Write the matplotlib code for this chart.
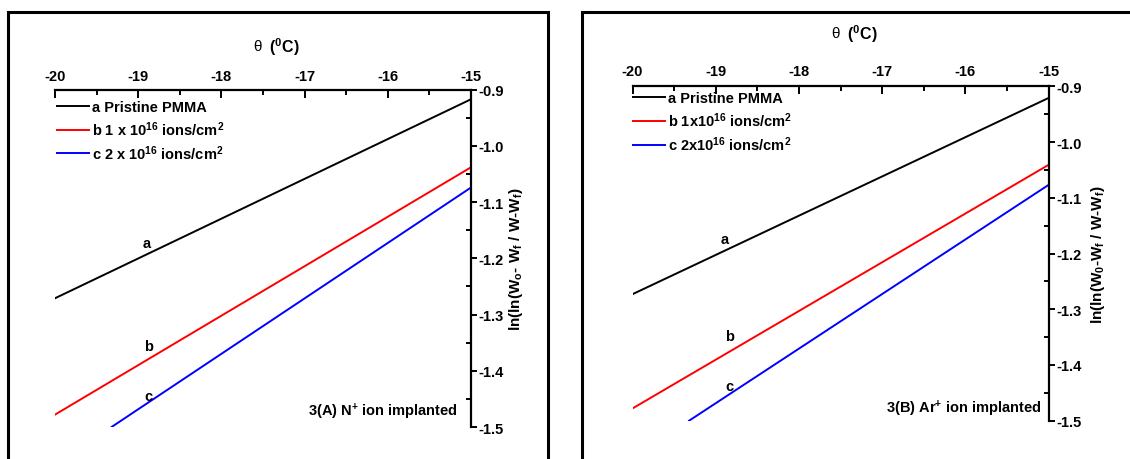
import numpy as np
import matplotlib
matplotlib.use('Agg')
import matplotlib.pyplot as plt
from matplotlib.patches import Rectangle
from matplotlib.ticker import MultipleLocator, FormatStrFormatter

plt.rcParams['font.family'] = ['Liberation Sans Narrow', 'Liberation Sans', 'DejaVu Sans']
plt.rcParams['font.weight'] = 'bold'
plt.rcParams['mathtext.default'] = 'regular'

# temperature end points (deg C) and ln(ln(...)) values
theta_ab = [-20.0, -15.0]
theta_c = [-19.32, -15.0]

a_left = [-1.271, -0.917]
b_left = [-1.478, -1.038]
c_left = [-1.500, -1.074]

a_right = [-1.273, -0.921]
b_right = [-1.478, -1.041]
c_right = [-1.500, -1.077]

legend_left = ['a Pristine PMMA', r'b 1 x 10$^{16}$ ions/cm$^{2}$', r'c 2 x 10$^{16}$ ions/cm$^{2}$']
legend_right = ['a Pristine PMMA', r'b 1x10$^{16}$ ions/cm$^{2}$', r'c 2x10$^{16}$ ions/cm$^{2}$']
ylabel_left = r'ln(ln(W$_{o}$- W$_{f}$ / W-W$_{f}$)'
ylabel_right = r'ln(ln(W$_{0}$-W$_{f}$ / W-W$_{f}$)'
tag_left = r'3(A) N$^{+}$ ion implanted'
tag_right = r'3(B) Ar$^{+}$ ion implanted'

W, H = 1130, 460
fig = plt.figure(figsize=(W/100, H/100), dpi=100)

def px(x0, y0, x1, y1):
  return [x0/W, 1-y1/H, (x1-x0)/W, (y1-y0)/H]

# outer frames
for x0, x1 in [(8, 548), (582, 1140)]:
  fig.patches.append(Rectangle((x0/W, -0.05), (x1-x0)/W, 1.05-13/H, transform=fig.transFigure,
                               fill=False, lw=2.2, ec='black'))

def panel(rect, ys, legend, ylab, ylab_xy, tag, tag_xy, letters, leg_anchor, xlab_y, tickpad):
  ax = fig.add_axes(rect)
  ax.set_facecolor('none')
  cols = ['black', 'red', 'blue']
  xs = [theta_ab, theta_ab, theta_c]
  for x, y, c, l in zip(xs, ys, cols, legend):
    ax.plot(x, y, color=c, lw=1.4, label=l)
  ax.set_xlim(-20, -15)
  ax.set_ylim(-1.5, -0.9)
  for s in ['bottom', 'left']:
    ax.spines[s].set_visible(False)
  for s in ['top', 'right']:
    ax.spines[s].set_linewidth(1.6)
  ax.xaxis.set_ticks_position('top')
  ax.yaxis.set_ticks_position('right')
  ax.xaxis.set_major_locator(MultipleLocator(1))
  ax.xaxis.set_minor_locator(MultipleLocator(0.5))
  ax.yaxis.set_major_locator(MultipleLocator(0.1))
  ax.yaxis.set_minor_locator(MultipleLocator(0.05))
  ax.tick_params(axis='x', which='major', direction='in', length=6, width=1.4, labelsize=10.5, pad=tickpad)
  ax.tick_params(axis='x', which='minor', direction='in', length=3.5, width=1.4)
  ax.tick_params(axis='y', which='major', direction='out', length=4, width=1.4, labelsize=10.5, pad=1.5)
  ax.tick_params(axis='y', which='minor', direction='in', length=3.5, width=1.4)
  ax.yaxis.set_major_formatter(FormatStrFormatter('%.1f'))
  ax.xaxis.set_major_formatter(FormatStrFormatter('%d'))
  # x label: serif theta + bold unit
  ax.text(0.5, xlab_y, r'$\theta$', transform=ax.transAxes, ha='right', va='center',
          fontsize=11, fontweight='normal', math_fontfamily='dejavuserif')
  ax.text(0.505, xlab_y, r' ($^{0}$C)', transform=ax.transAxes, ha='left', va='center', fontsize=11.5)
  ax.text(ylab_xy[0], ylab_xy[1], ylab, transform=ax.transAxes, rotation=90,
          ha='center', va='center', fontsize=11)
  ax.text(tag_xy[0], tag_xy[1], tag, transform=ax.transAxes, ha='right', va='center', fontsize=10.5)
  for t, (lx, ly) in zip(['a', 'b', 'c'], letters):
    ax.text(lx, ly, t, transform=ax.transAxes, ha='center', va='center', fontsize=10.5)
  ax.legend(loc='upper left', bbox_to_anchor=leg_anchor, frameon=False, fontsize=10.5,
            handlelength=2.2, handletextpad=0.2, labelspacing=0.36, borderaxespad=0, borderpad=0)
  return ax

panel(px(55, 90.7, 471, 428), [a_left, b_left, c_left], legend_left, ylabel_left,
      (1.108, 0.50), tag_left, (0.969, 0.047),
      [(0.221, 0.545), (0.224, 0.240), (0.224, 0.092)], (0.005, 0.97), 1.13, 5)
panel(px(632.5, 87.3, 1048.5, 421.7), [a_right, b_right, c_right], legend_right, ylabel_right,
      (1.119, 0.50), tag_right, (0.982, 0.038),
      [(0.221, 0.543), (0.234, 0.254), (0.234, 0.105)], (0.0, 0.985), 1.16, 6)

fig.savefig('out.png', dpi=100)
